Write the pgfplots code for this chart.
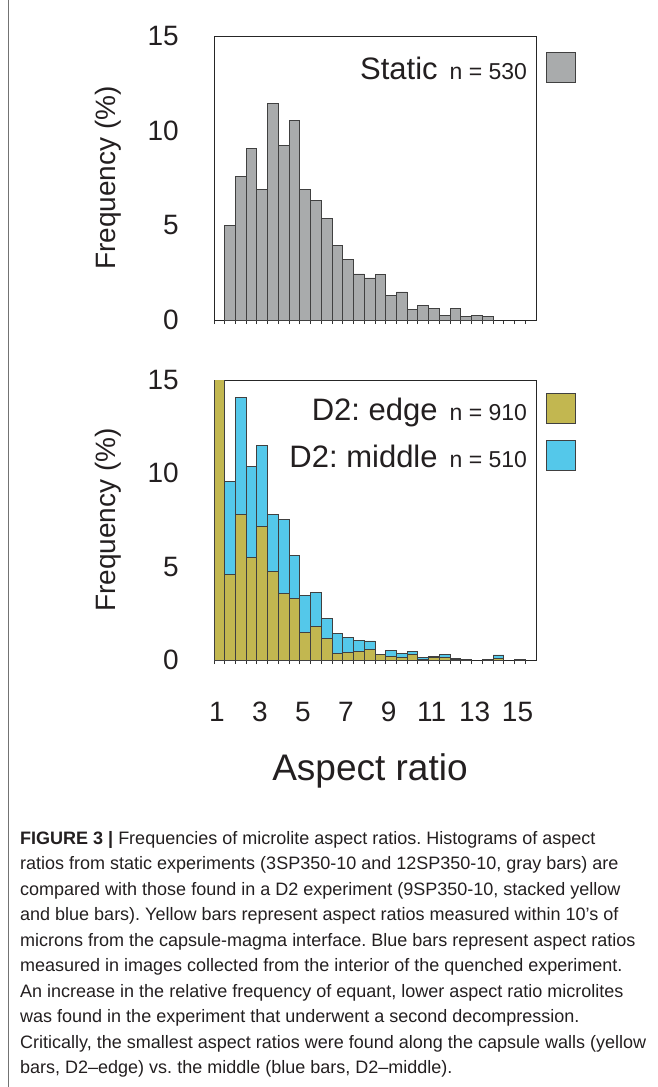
\documentclass[border=0pt]{standalone}
\usepackage{fontspec}
\setmainfont{Liberation Sans}
\usepackage{pgfplots}
\pgfplotsset{compat=1.18}
\frenchspacing

\definecolor{statgray}{RGB}{169,171,172}
\definecolor{edgeyel}{RGB}{194,183,80}
\definecolor{midblue}{RGB}{84,200,234}
\definecolor{txt}{RGB}{35,31,32}
\newcommand{\sz}[1]{\fontsize{#1}{#1}\selectfont}

% common look of both histograms
\pgfplotsset{
  histo/.style={
    scale only axis, width=322pt,
    xmin=1, xmax=16, ymin=0, ymax=15,
    axis line style={black!85, line width=1pt},
    tick align=outside, xtick pos=bottom, ytick pos=left,
    xtick={1,3,...,15}, minor xtick={1.5,2,...,15.5},
    major tick length=4pt, minor tick length=4pt,
    tick style={black!80, line width=0.9pt},
    ytick={0,5,10,15}, ytick style={draw=none},
    /pgf/number format/assume math mode=true,
    tick label style={font=\sz{28}, text=txt},
    yticklabel style={anchor=east, inner sep=0pt, xshift=-31pt},
    every axis y label/.style={at={(axis description cs:-0.329,0.5)}, anchor=center, rotate=90, font=\sz{28}, text=txt},
    ylabel={Frequency (\%)},
    legend plot pos=right, legend cell align=right,
    legend style={draw=none, fill=none, inner sep=0pt, outer sep=0pt, row sep=16pt,
      font=\sz{31}, text=txt,
      nodes={inner sep=0pt, text height=24pt, text depth=0pt},
      at={(rel axis cs:1,1)}, anchor=north east, xshift=40pt},
    legend image code/.code={\path (0pt,0pt); \draw[##1, line width=1pt] (19pt,-15pt) rectangle (48pt,15pt);},
    bar width=0.5,
  }
}

\begin{document}
\begin{tikzpicture}
\path[use as bounding box] (0,0) rectangle (657pt,-1087pt);
\draw[black!55, line width=1pt] (8pt,0pt) -- (8pt,-1087pt);

% static experiments
\begin{axis}[histo, at={(214pt,-320pt)}, anchor=south west, height=284pt,
  xticklabels={}, legend style={yshift=-16pt}]
\addplot[ybar, bar shift=0pt, fill=statgray, draw=black!75, line width=0.9pt] coordinates {
  (1.75,5.0) (2.25,7.6) (2.75,9.07) (3.25,6.9) (3.75,11.44) (4.25,9.23)
  (4.75,10.56) (5.25,6.9) (5.75,6.29) (6.25,5.37) (6.75,3.93) (7.25,3.2)
  (7.75,2.43) (8.25,2.22) (8.75,2.41) (9.25,1.30) (9.75,1.48) (10.25,0.56)
  (10.75,0.79) (11.25,0.62) (11.75,0.26) (12.25,0.62) (12.75,0.19)
  (13.25,0.25) (13.75,0.19)
};
\legend{{Static\hspace{12pt}{\sz{23}n = 530}}}
\end{axis}

% D2 experiment, stacked edge + middle
\begin{axis}[ybar stacked, histo, at={(214pt,-660pt)}, anchor=south west, height=280pt,
  bar shift=0pt,
  xticklabel style={anchor=base, yshift=-57pt, xshift=3pt},
  xlabel={Aspect ratio},
  every axis x label/.style={at={(axis description cs:0.5,0)}, anchor=base, yshift=-120pt, xshift=-5pt, font=\sz{37}, text=txt},
  legend style={yshift=-13pt}]
\addplot[fill=edgeyel, draw=black!75, line width=0.9pt] coordinates {
  (1.25,16.5) (1.75,4.59) (2.25,7.8) (2.75,5.5) (3.25,7.16) (3.75,4.75)
  (4.25,3.55) (4.75,3.3) (5.25,1.48) (5.75,1.8) (6.25,1.16) (6.75,0.36)
  (7.25,0.41) (7.75,0.48) (8.25,0.54) (8.75,0.3) (9.25,0.21) (9.75,0.14)
  (10.25,0.3) (10.75,0.05) (11.25,0.14) (11.75,0.14) (12.25,0.03)
  (12.75,0) (13.25,0) (13.75,0.05) (14.25,0.07) (14.75,0) (15.25,0)
};
\addplot[fill=midblue, draw=black!75, line width=0.9pt] coordinates {
  (1.25,0) (1.75,4.96) (2.25,6.27) (2.75,4.86) (3.25,4.32) (3.75,3.05)
  (4.25,4.0) (4.75,2.29) (5.25,1.98) (5.75,1.83) (6.25,1.07) (6.75,1.07)
  (7.25,0.8) (7.75,0.59) (8.25,0.48) (8.75,0) (9.25,0.29) (9.75,0.22)
  (10.25,0.16) (10.75,0.09) (11.25,0.07) (11.75,0.16) (12.25,0.04)
  (12.75,0.05) (13.25,0) (13.75,0) (14.25,0.2) (14.75,0) (15.25,0.05)
};
\legend{{D2: edge\hspace{12pt}{\sz{23}n = 910}},{D2: middle\hspace{12pt}{\sz{23}n = 510}}}
\end{axis}

% caption
\begin{scope}[every node/.style={anchor=base west, inner sep=0pt, font=\sz{18}, text=txt}]
\node at (20pt,-844pt) {\textbf{FIGURE 3 |} Frequencies of microlite aspect ratios. Histograms of aspect};
\node at (20pt,-869.5pt) {ratios from static experiments (3SP350-10 and 12SP350-10, gray bars) are};
\node at (20pt,-895pt) {compared with those found in a D2 experiment (9SP350-10, stacked yellow};
\node at (20pt,-920.5pt) {and blue bars). Yellow bars represent aspect ratios measured within 10’s of};
\node at (20pt,-946pt) {microns from the capsule-magma interface. Blue bars represent aspect ratios};
\node at (20pt,-971.5pt) {measured in images collected from the interior of the quenched experiment.};
\node at (20pt,-997pt) {An increase in the relative frequency of equant, lower aspect ratio microlites};
\node at (20pt,-1022.5pt) {was found in the experiment that underwent a second decompression.};
\node at (20pt,-1048pt) {Critically, the smallest aspect ratios were found along the capsule walls (yellow};
\node at (20pt,-1073.5pt) {bars, D2–edge) vs. the middle (blue bars, D2–middle).};
\end{scope}
\end{tikzpicture}
\end{document}
